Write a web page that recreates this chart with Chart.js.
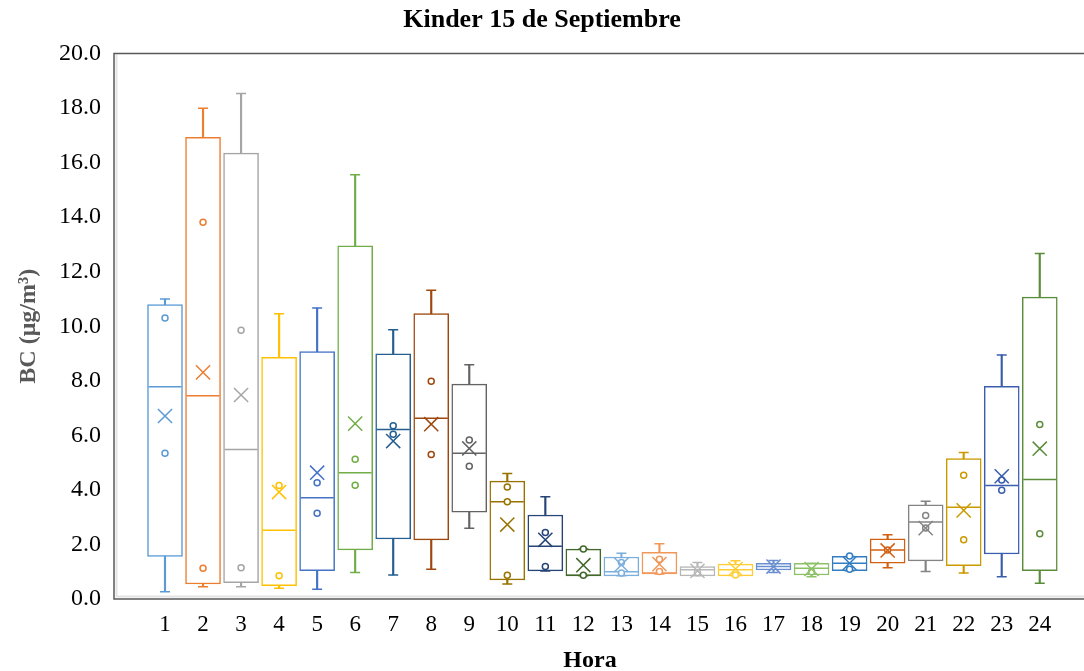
<!DOCTYPE html>
<html>
<head>
<meta charset="utf-8">
<script src="https://cdn.jsdelivr.net/npm/chart.js@4/dist/chart.umd.min.js"></script>
<style>
  html, body { margin: 0; padding: 0; background: #fff; }
  #wrap { width: 1084px; height: 671px; }
</style>
</head>
<body>
<div id="wrap"><canvas id="chart" width="1084" height="671"></canvas></div>
<script>
// datos por hora (BC µg/m3)
const HOURS = [1,2,3,4,5,6,7,8,9,10,11,12,13,14,15,16,17,18,19,20,21,22,23,24];
const MINS    = [0.27,0.45,0.45,0.39,0.36,0.97,0.88,1.09,2.59,0.55,1.03,0.85,0.85,0.92,0.85,0.85,0.97,0.82,1.04,1.15,1.01,0.95,0.82,0.58];
const Q1      = [1.56,0.55,0.60,0.49,1.04,1.80,2.20,2.17,3.18,0.70,1.03,0.85,0.85,0.92,0.85,0.85,1.07,0.88,1.04,1.31,1.40,1.22,1.65,1.04];
const MEDIANS = [7.78,7.45,5.48,2.52,3.71,4.63,6.21,6.63,5.34,3.57,1.93,0.87,1.00,0.95,1.07,1.07,1.19,1.13,1.31,1.80,2.82,3.36,4.16,4.38];
const Q3      = [10.79,16.93,16.35,8.86,9.07,12.95,8.99,10.46,7.88,4.32,3.08,1.83,1.54,1.71,1.19,1.28,1.31,1.31,1.56,2.21,3.45,5.15,7.80,11.07];
const MAXS    = [11.00,17.99,18.53,10.46,10.67,15.55,9.87,11.32,8.59,4.60,3.75,1.83,1.68,2.03,1.34,1.40,1.41,1.31,1.56,2.36,3.58,5.37,8.95,12.67];
const MEANS   = [6.71,8.31,7.48,3.92,4.63,6.43,5.79,6.41,5.52,2.73,2.17,1.24,1.25,1.28,1.03,1.10,1.19,1.10,1.31,1.78,2.60,3.25,4.50,5.51];
const INNER = [
  [10.30,5.34],[13.81,1.13],[9.85,1.15],[4.16,0.85],[4.26,3.14],[5.12,4.17],
  [6.35,6.04],[7.98,5.30],[5.83,4.87],[4.11,3.57,0.87],[2.44,1.19],[1.83,0.87],
  [1.34,0.95],[1.46,1.01],[0.97],[0.88],[],[1.00],
  [1.58,1.09],[1.80],[3.06,2.60],[4.54,2.17],[4.36,3.99],[6.40,2.39]
];
const Y_TICKS = [0,2,4,6,8,10,12,14,16,18,20];

// paleta de Excel
const COLORS = ['#5B9BD5','#ED7D31','#A5A5A5','#FFC000','#4472C4','#70AD47','#255E91','#9E480E',
  '#636363','#997300','#264478','#43682B','#7CAFDD','#F1975A','#B7B7B7','#FFCD33',
  '#698ED0','#8CC168','#327DC2','#D26012','#848484','#CC9A00','#3A5DAE','#5A8C3A'];

const colorOf = c => COLORS[(c.raw ? c.raw.x : 1) - 1];
const SERIF = 'Liberation Serif, Times New Roman, serif';

const innerPts = [];
INNER.forEach((arr, i) => arr.forEach(v => innerPts.push({ x: HOURS[i], y: v })));

// marco del área de trazado (sigue hasta el borde derecho, sin línea derecha)
const framePlugin = {
  id: 'frame',
  afterDatasetsDraw(chart) {
    const { ctx, chartArea: a, width } = chart;
    ctx.save();
    ctx.strokeStyle = '#e3e3e3';
    ctx.lineWidth = 2;
    ctx.beginPath();
    ctx.moveTo(a.left + 2.5, a.top + 1);
    ctx.lineTo(a.left + 2.5, a.bottom - 2.5);
    ctx.lineTo(width, a.bottom - 2.5);
    ctx.stroke();
    ctx.strokeStyle = '#595959';
    ctx.lineWidth = 1.5;
    ctx.beginPath();
    ctx.moveTo(width, a.top);
    ctx.lineTo(a.left, a.top);
    ctx.lineTo(a.left, a.bottom);
    ctx.lineTo(width, a.bottom);
    ctx.stroke();
    ctx.restore();
  }
};

const ctx = document.getElementById('chart').getContext('2d');
const chart = new Chart(ctx, {
  type: 'bar',
  data: {
    datasets: [
      { // bigotes
        type: 'bar', order: 5, grouped: false, barThickness: 1.5,
        data: HOURS.map((h, i) => ({ x: h, y: [MINS[i], MAXS[i]] })),
        backgroundColor: colorOf, borderWidth: 0
      },
      { // cajas
        type: 'bar', order: 4, grouped: false, barThickness: 35,
        data: HOURS.map((h, i) => ({ x: h, y: [Q1[i], Q3[i]] })),
        backgroundColor: '#ffffff', borderColor: colorOf, borderWidth: 1.5, borderSkipped: false
      },
      { // topes
        type: 'scatter', order: 3,
        data: HOURS.flatMap((h, i) => [{ x: h, y: MINS[i] }, { x: h, y: MAXS[i] }]),
        pointStyle: 'line', pointRadius: 5, pointBorderWidth: 1.5, pointBorderColor: colorOf
      },
      { // mediana
        type: 'scatter', order: 2,
        data: HOURS.map((h, i) => ({ x: h, y: MEDIANS[i] })),
        pointStyle: 'line', pointRadius: 16.5, pointBorderWidth: 1.5, pointBorderColor: colorOf
      },
      { // puntos
        type: 'scatter', order: 1,
        data: innerPts,
        pointStyle: 'circle', pointRadius: 3, pointBorderWidth: 1.5,
        pointBorderColor: colorOf, pointBackgroundColor: '#ffffff'
      },
      { // media
        type: 'scatter', order: 0,
        data: HOURS.map((h, i) => ({ x: h, y: MEANS[i] })),
        pointStyle: 'crossRot', pointRadius: 10, pointBorderWidth: 1.5, pointBorderColor: colorOf
      }
    ]
  },
  options: {
    responsive: false, animation: false,
    events: [],
    layout: { padding: 0 },
    plugins: {
      legend: { display: false },
      tooltip: { enabled: false },
      title: {
        display: true, text: 'Kinder 15 de Septiembre', color: '#000',
        font: { family: SERIF, size: 26, weight: 'bold' },
        padding: { top: 5, bottom: 17.3 }
      }
    },
    scales: {
      x: {
        type: 'linear', min: -0.341, max: 24.69, offset: false,
        grid: { display: false, offset: false }, border: { display: false },
        afterBuildTicks: s => { s.ticks = HOURS.map(v => ({ value: v })); },
        afterFit: s => { s.height = 72; },
        ticks: { color: '#000', padding: 4, maxRotation: 0, autoSkip: false,
          font: { family: SERIF, size: 23 }, callback: v => String(v) },
        title: { display: true, text: 'Hora', color: '#000',
          font: { family: SERIF, size: 24, weight: 'bold' }, padding: { top: 0, bottom: -4 } }
      },
      y: {
        min: 0, max: 20,
        grid: { display: false }, border: { display: false },
        afterBuildTicks: s => { s.ticks = Y_TICKS.map(v => ({ value: v })); },
        afterFit: s => { s.width = 114; },
        ticks: { color: '#000', padding: 5, font: { family: SERIF, size: 24 },
          callback: v => v.toFixed(1) },
        title: { display: true, text: 'BC (μg/m³)', color: '#595959',
          font: { family: SERIF, size: 24, weight: 'bold' }, padding: { top: 14, bottom: 0 } }
      }
    }
  },
  plugins: [framePlugin]
});
</script>
</body>
</html>
